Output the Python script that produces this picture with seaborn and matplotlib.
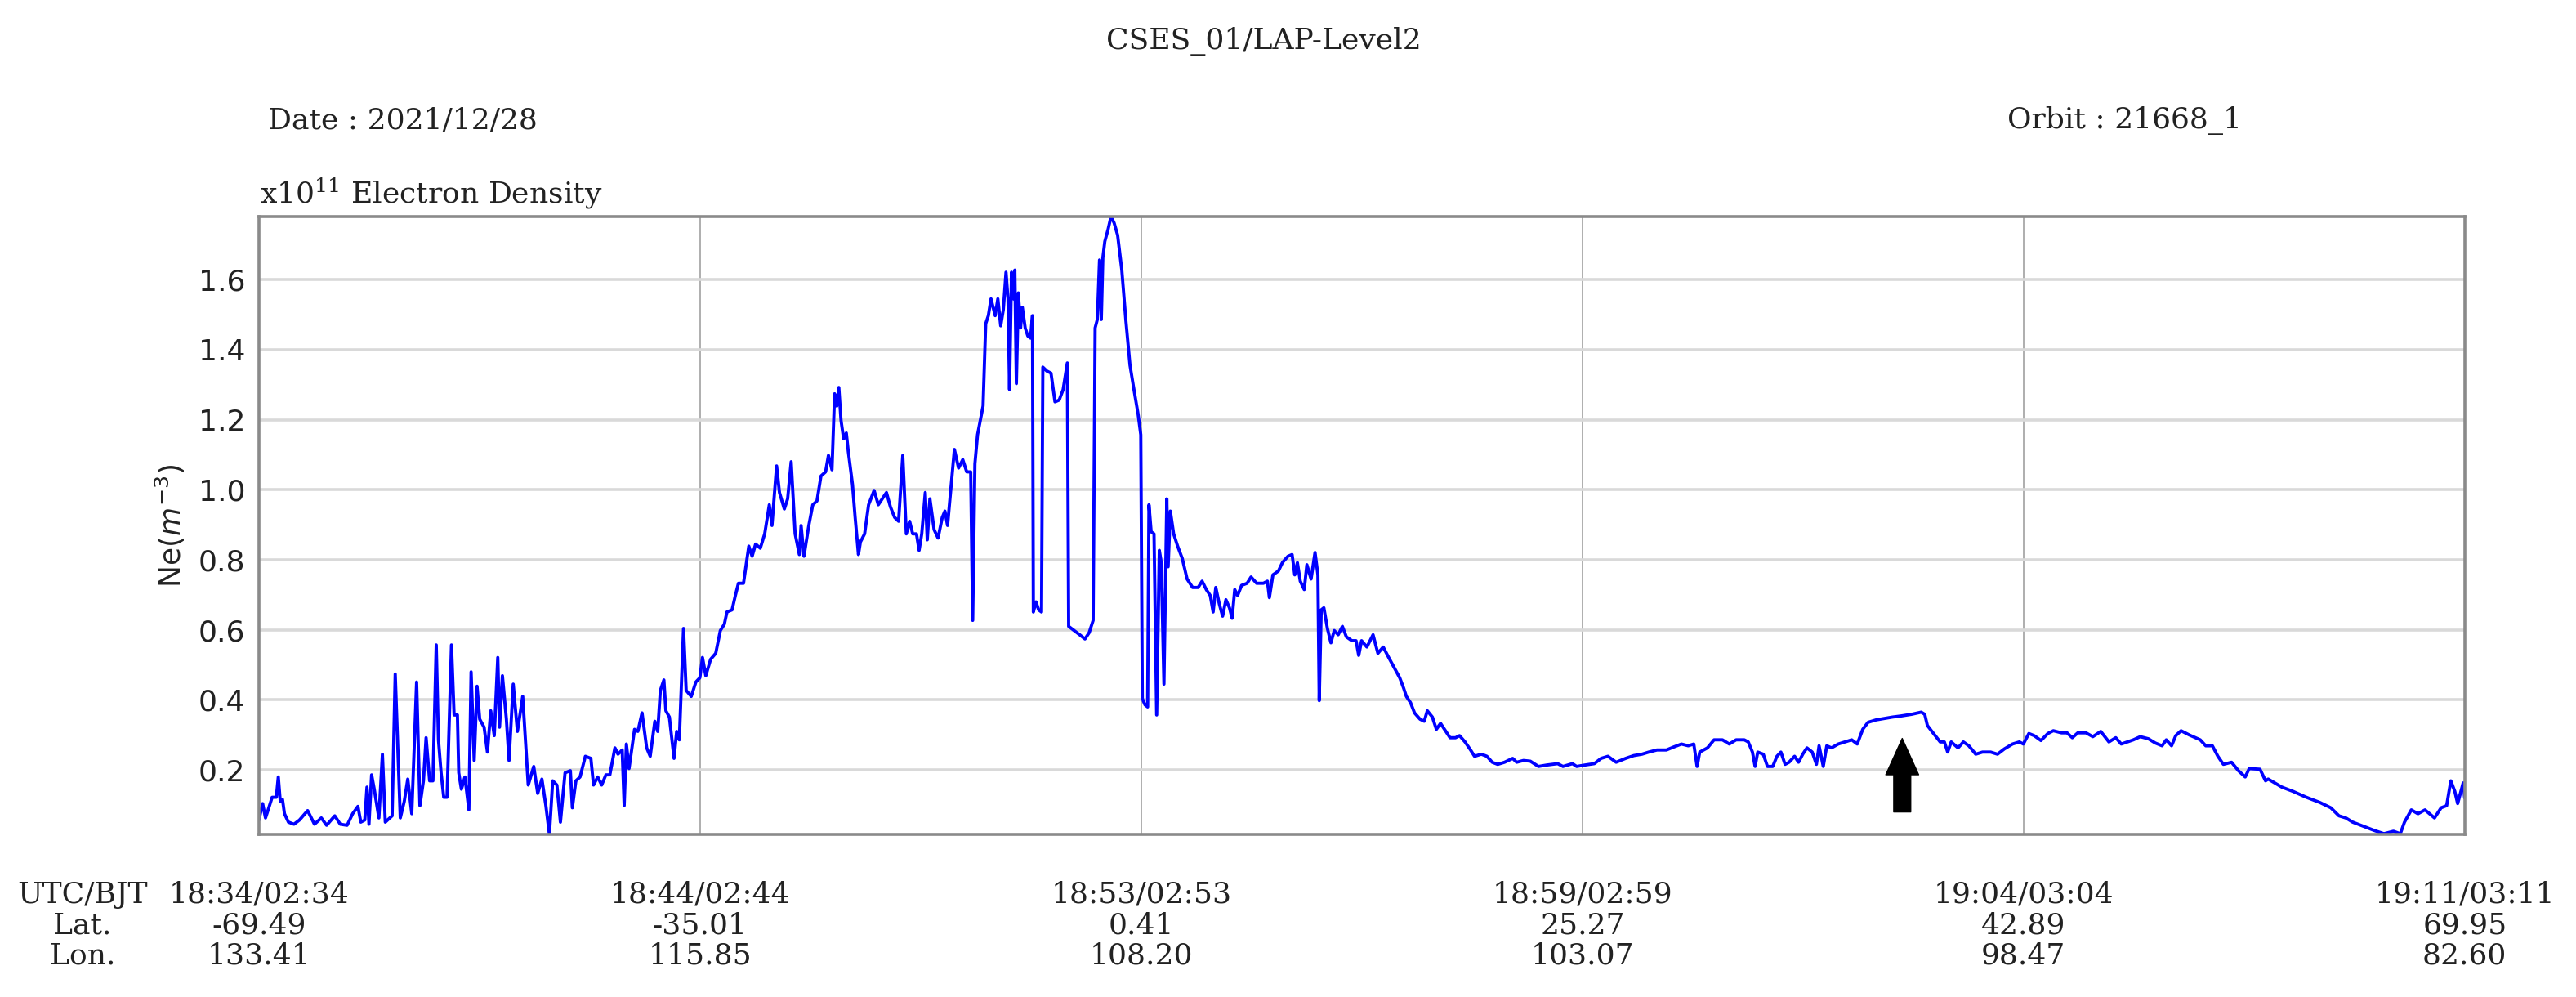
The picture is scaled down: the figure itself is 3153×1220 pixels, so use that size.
import numpy as np
import pandas as pd
import matplotlib
matplotlib.use("Agg")
import matplotlib.pyplot as plt
import seaborn as sns

# sample index along the orbit (0..1000) and electron density (x1e11 m^-3)
idx = [0.0, 1.7, 3.0, 4.2, 6.0, 7.9, 8.8, 9.7, 10.7, 11.6, 13.4, 15.9, 18.4, 22.1, 25.2, 28.3,
       30.7, 34.4, 36.9, 40.0, 42.5, 44.9, 46.2, 48.0, 49.0, 49.9, 51.1, 52.3, 54.4, 56.0, 57.3,
       60.4, 61.8, 64.1, 65.9, 67.5, 69.3, 71.5, 73.0, 74.6, 75.8, 77.4, 78.9, 80.4, 81.4, 82.6,
       83.8, 85.3, 87.3, 88.5, 90.0, 90.6, 91.8, 93.4, 95.2, 96.2, 97.6, 98.9, 100.1, 102.1, 103.6,
       105.1, 106.7, 108.3, 109.1, 110.4, 112.2, 113.4, 115.3, 117.2, 119.6, 122.1, 124.6, 126.4,
       128.3, 130.1, 131.7, 133.2, 135.1, 136.7, 138.8, 141.2, 142.1, 143.7, 145.6, 148.0, 150.5,
       151.7, 153.6, 155.4, 157.3, 159.1, 161.4, 162.8, 164.7,
       165.6, 166.6, 167.8, 170.3, 171.8, 173.7, 175.8, 177.4, 179.5, 180.8, 182.0, 183.6, 184.5,
       186.1, 188.2, 189.4, 190.6, 192.5, 193.7, 196.0, 198.1, 199.9, 201.1, 202.6, 204.8, 207.1,
       209.2, 211.0, 212.2, 214.5, 216.0, 217.4, 219.7, 222.1, 223.6, 225.2, 227.3, 229.3, 231.4,
       232.6, 234.7, 236.0, 238.2, 239.7, 241.3, 243.1, 245.0, 245.8, 247.1, 249.3, 251.1, 253.0,
       254.8, 256.9, 258.2, 259.8, 261.0, 262.0, 262.9, 263.9, 265.1, 266.3, 267.2, 269.1, 270.3,
       271.8, 272.7, 274.6, 276.4, 278.9, 280.8, 282.6, 284.5, 286.3, 288.2, 290.0, 291.9, 293.5,
       295.0, 296.4, 298.1, 299.3, 300.5, 302.1, 303.0, 304.2, 306.1, 307.9, 309.8, 311.0, 312.2,
       313.7, 315.3, 317.2, 319.1, 320.9, 322.7, 323.6, 324.6, 325.8, 328.3, 329.5,
       330.7, 331.9, 333.8, 335.0, 336.3, 337.5, 338.7, 339.6, 340.3, 341.2, 342.1, 342.7, 343.4,
       344.3, 345.3, 346.1, 347.4, 348.6, 349.8, 350.7, 351.1, 352.3, 353.5, 354.8, 355.4, 357.2,
       359.1, 360.9, 362.8, 364.6, 366.5, 367.1, 369.6, 372.1, 374.5, 376.4, 378.2, 379.1, 380.1,
       381.1, 381.9, 382.6, 383.5, 385.0, 386.3, 387.7, 389.3, 391.2, 393.0, 394.9, 396.7, 398.6,
       399.8, 400.5, 401.7, 402.9, 403.5, 404.5, 405.8, 407.0, 408.2, 409.1, 410.3, 411.6, 412.2,
       413.2, 414.7, 416.5, 418.6, 420.8, 423.3, 425.8, 427.6, 429.5, 431.3, 432.6, 433.8, 435.4,
       436.9, 438.4, 440.0, 441.2, 442.4, 443.7, 445.5, 448.0, 449.8, 452.3, 455.4, 457.2, 458.1,
       459.7, 462.2, 464.0, 466.5, 468.4, 469.6, 470.8, 472.1, 473.9, 475.1, 477.0, 478.8, 480.1,
       480.7, 481.6, 482.8, 484.4, 486.0, 487.5, 489.3, 491.2, 493.0, 495.5, 497.4, 498.6,
       499.9, 502.3, 505.1, 507.3, 509.7, 512.2, 514.7, 517.2, 519.0, 520.2, 522.1, 523.9, 526.4,
       528.3, 529.7, 532.0, 533.8, 535.7, 538.1, 540.0, 542.5, 544.3, 546.8, 549.3, 551.1, 554.2,
       556.7, 559.1, 561.6, 564.7, 568.4, 570.2, 573.3, 576.4, 580.1, 583.8, 588.8, 591.2, 595.5,
       597.4, 601.1, 605.4, 608.5, 611.6, 615.3, 619.6, 623.3, 627.0, 630.1, 633.8, 638.1, 641.2,
       644.9, 648.0, 650.5, 652.0, 653.2, 656.7, 659.7, 663.5,
       666.6, 669.7, 673.4, 675.2, 677.1, 678.3, 679.5, 682.0, 683.9, 686.3, 688.2, 690.0, 691.9,
       693.7, 696.2, 698.0, 699.9, 701.8, 704.2, 706.1, 707.3, 709.2, 710.8, 712.9, 716.0, 719.0,
       722.1, 724.6, 727.1, 729.5, 733.2, 736.9, 740.6, 744.3, 749.3, 753.6, 755.2, 756.4, 759.2,
       762.2, 764.1, 765.6, 767.2, 770.3, 772.7, 775.2, 778.3, 781.4, 785.1, 788.2, 791.3, 795.0,
       798.1, 799.9, 802.4, 804.8, 807.9, 811.0, 813.5, 817.2, 819.7, 822.1, 824.6, 828.3, 831.4,
       835.0, 838.7, 841.8, 844.3, 849.8, 852.9, 856.6, 859.7, 862.8, 864.7, 867.1, 869.0, 871.4,
       875.1, 880.1, 882.6, 885.6, 888.1, 890.6, 894.3, 897.4, 900.5, 902.3, 907.2, 909.7, 910.9,
       917.1, 922.1, 928.2, 934.4, 939.3, 943.0, 946.1, 949.2, 954.2, 959.1, 963.4, 967.7, 970.8,
       972.7, 975.8, 978.8, 982.0, 986.3, 989.3, 991.8, 993.7, 995.5, 996.8, 999.3, 1000.0]

ne = [0.057, 0.104, 0.063, 0.086, 0.122, 0.122, 0.180, 0.110, 0.116, 0.075, 0.051, 0.045, 0.057,
      0.084, 0.045, 0.063, 0.042, 0.069, 0.045, 0.042, 0.075, 0.096, 0.051, 0.057, 0.151, 0.045,
      0.186, 0.145, 0.063, 0.245, 0.051, 0.069, 0.474, 0.063, 0.110, 0.174, 0.075, 0.451, 0.098,
      0.169, 0.292, 0.169, 0.169, 0.557, 0.286, 0.192, 0.122, 0.122, 0.557, 0.357, 0.357, 0.192,
      0.145, 0.180, 0.086, 0.480, 0.227, 0.439, 0.345, 0.322, 0.251, 0.369, 0.298, 0.521, 0.322,
      0.469, 0.345, 0.227, 0.445, 0.310, 0.410, 0.157, 0.210, 0.133, 0.174, 0.098, 0.016, 0.169,
      0.157, 0.051, 0.192, 0.198, 0.092, 0.169, 0.180, 0.239, 0.233, 0.157, 0.180, 0.157, 0.186,
      0.186, 0.263, 0.245, 0.257,
      0.098, 0.274, 0.204, 0.316, 0.310, 0.363, 0.263, 0.239, 0.339, 0.310, 0.427, 0.457, 0.369,
      0.351, 0.233, 0.310, 0.286, 0.604, 0.427, 0.410, 0.451, 0.463, 0.521, 0.469, 0.516, 0.533,
      0.598, 0.616, 0.651, 0.657, 0.698, 0.733, 0.733, 0.839, 0.810, 0.845, 0.833, 0.874, 0.957,
      0.898, 1.068, 0.992, 0.945, 0.974, 1.080, 0.874, 0.815, 0.898, 0.810, 0.898, 0.957, 0.968,
      1.039, 1.051, 1.098, 1.057, 1.274, 1.239, 1.292, 1.198, 1.145, 1.162, 1.109, 1.015, 0.921,
      0.815, 0.851, 0.874, 0.957, 0.998, 0.957, 0.974, 0.992, 0.951, 0.921, 0.910, 1.098, 0.874,
      0.910, 0.874, 0.874, 0.827, 0.874, 0.992, 0.857, 0.974, 0.886, 0.862, 0.921, 0.939, 0.898,
      1.004, 1.115, 1.062, 1.086, 1.051, 1.051, 0.627, 1.074, 1.157, 1.239, 1.474,
      1.497, 1.545, 1.497, 1.545, 1.468, 1.515, 1.621, 1.545, 1.286, 1.621, 1.545, 1.627, 1.303,
      1.562, 1.462, 1.521, 1.462, 1.439, 1.433, 1.497, 0.651, 0.680, 0.657, 0.651, 1.350, 1.339,
      1.333, 1.251, 1.256, 1.286, 1.362, 0.610, 0.598, 0.586, 0.574, 0.592, 0.627, 1.462, 1.486,
      1.656, 1.486, 1.662, 1.709, 1.744, 1.780, 1.762, 1.727, 1.627, 1.486, 1.356, 1.286, 1.215,
      1.157, 0.404, 0.386, 0.380, 0.957, 0.880, 0.874, 0.357, 0.827, 0.792, 0.445, 0.974, 0.780,
      0.939, 0.874, 0.839, 0.804, 0.745, 0.721, 0.721, 0.739, 0.715, 0.698, 0.651, 0.721, 0.674,
      0.639, 0.686, 0.663, 0.633, 0.715, 0.698, 0.727, 0.733, 0.751, 0.733, 0.733, 0.739, 0.692,
      0.757, 0.768, 0.792, 0.810, 0.815, 0.757, 0.792, 0.739, 0.715, 0.786, 0.745, 0.821, 0.757,
      0.398, 0.657, 0.663, 0.604, 0.563, 0.598, 0.586, 0.610, 0.580, 0.569, 0.569, 0.527,
      0.569, 0.551, 0.586, 0.533, 0.551, 0.521, 0.492, 0.463, 0.433, 0.410, 0.392, 0.363, 0.345,
      0.339, 0.369, 0.351, 0.316, 0.333, 0.310, 0.292, 0.292, 0.298, 0.280, 0.257, 0.239, 0.245,
      0.239, 0.222, 0.216, 0.222, 0.233, 0.222, 0.227, 0.225, 0.210, 0.214, 0.218, 0.210, 0.218,
      0.210, 0.214, 0.218, 0.233, 0.239, 0.222, 0.233, 0.241, 0.245, 0.251, 0.257, 0.257, 0.265,
      0.274, 0.269, 0.274, 0.210, 0.251, 0.263, 0.286, 0.286,
      0.274, 0.286, 0.286, 0.280, 0.251, 0.210, 0.251, 0.245, 0.210, 0.210, 0.239, 0.251, 0.216,
      0.222, 0.239, 0.222, 0.245, 0.263, 0.251, 0.216, 0.269, 0.210, 0.269, 0.263, 0.274, 0.280,
      0.286, 0.274, 0.316, 0.336, 0.343, 0.347, 0.351, 0.354, 0.359, 0.365, 0.359, 0.327, 0.304,
      0.280, 0.280, 0.251, 0.280, 0.263, 0.280, 0.269, 0.245, 0.251, 0.251, 0.245, 0.260, 0.274,
      0.280, 0.274, 0.304, 0.298, 0.284, 0.304, 0.312, 0.306, 0.306, 0.292, 0.306, 0.306, 0.295,
      0.310, 0.280, 0.292, 0.274, 0.286, 0.295, 0.289, 0.277, 0.269, 0.286, 0.269, 0.298, 0.312,
      0.300, 0.286, 0.269, 0.269, 0.239, 0.216, 0.222, 0.198, 0.180, 0.204, 0.202, 0.169, 0.174,
      0.151, 0.139, 0.122, 0.107, 0.092, 0.069, 0.063, 0.051, 0.039, 0.027, 0.018, 0.025, 0.018,
      0.051, 0.086, 0.075, 0.086, 0.063, 0.092, 0.098, 0.169, 0.139, 0.104, 0.163, 0.120]

tick_idx = [0, 200, 400, 600, 800, 1000]
utc_bjt = ["18:34/02:34", "18:44/02:44", "18:53/02:53", "18:59/02:59", "19:04/03:04", "19:11/03:11"]
lat = ["-69.49", "-35.01", "0.41", "25.27", "42.89", "69.95"]
lon = ["133.41", "115.85", "108.20", "103.07", "98.47", "82.60"]
y_ticks = [0.2, 0.4, 0.6, 0.8, 1.0, 1.2, 1.4, 1.6]

# event marker (arrow) position
arrow_idx = 745
arrow_tip = 0.29
arrow_base = 0.08

df = pd.DataFrame({"idx": idx, "ne": ne})

sns.set_style("whitegrid")
plt.rcParams["font.family"] = ["DejaVu Sans"]

fig = plt.figure(figsize=(31.53, 12.2), dpi=100)
ax = fig.add_axes([0.1005, 0.1631, 0.8563, 0.6197])

sns.lineplot(data=df, x="idx", y="ne", ax=ax, color="#0000ff", lw=2.8,
             estimator=None, sort=False)

ax.set_xlim(0, 1000)
ax.set_ylim(min(ne), max(ne))
ax.set_yticks(y_ticks)
ax.set_yticklabels([f"{v:.1f}" for v in y_ticks], fontsize=26, color="#222222")
ax.set_xticks(tick_idx)
ax.set_xticklabels([f"{a}\n{b}\n{c}" for a, b, c in zip(utc_bjt, lat, lon)],
                   fontsize=26, family="DejaVu Serif", color="#222222", linespacing=1.12)
ax.tick_params(axis="x", length=8, width=1.5, color="#555555", pad=33)
ax.tick_params(axis="y", length=7, width=1.5, color="#555555", pad=5)
ax.set_xlabel("")
ax.set_ylabel("Ne($m^{-3}$)", fontsize=26, labelpad=10, color="#222222")

ax.grid(False)
ax.grid(axis="y", color="#d9d9d9", lw=2.6)
ax.grid(axis="x", color="#a8a8a8", lw=1.3)
ax.set_axisbelow(True)
for s in ax.spines.values():
    s.set_color("#8a8a8a")
    s.set_linewidth(2.6)

ax.annotate("", xy=(arrow_idx, arrow_tip), xytext=(arrow_idx, arrow_base),
            arrowprops=dict(facecolor="black", edgecolor="black", width=15,
                            headwidth=29, headlength=32, shrink=0))

serif = dict(family="DejaVu Serif", fontsize=26, color="#222222")
fig.text(0.4906, 0.959, "CSES_01/LAP-Level2", ha="center", va="center", **serif)
fig.text(0.104, 0.8795, "Date : 2021/12/28", ha="left", va="center", **serif)
fig.text(0.7793, 0.8795, "Orbit : 21668_1", ha="left", va="center", **serif)
fig.text(0.1009, 0.8057, "x10$^{11}$ Electron Density", ha="left", va="center",
         math_fontfamily="dejavuserif", **serif)
fig.text(0.032, 0.0721, "UTC/BJT\nLat.\nLon.", ha="center", va="center",
         multialignment="center", linespacing=1.12, **serif)

fig.savefig("out.png", dpi=100)
